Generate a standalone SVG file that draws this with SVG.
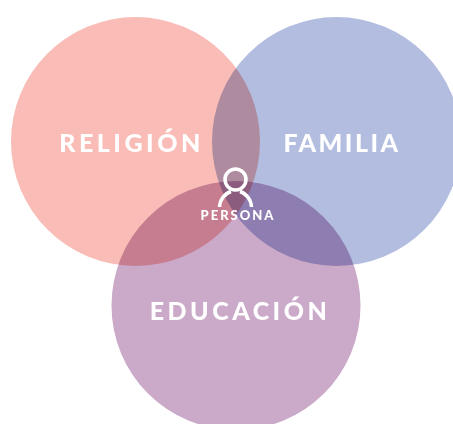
<svg xmlns="http://www.w3.org/2000/svg" width="453" height="424" viewBox="0 0 453 424">
<style>
.c{mix-blend-mode:multiply}
.t{font-family:"Lato","Liberation Sans",sans-serif;font-weight:900;fill:#fff;text-anchor:middle}
.b{font-size:25px;letter-spacing:3.5px}
.f{letter-spacing:2.5px}
.s{font-size:13px;letter-spacing:2px}
.i{fill:none;stroke:#fff;stroke-width:3.5}
</style>
<rect width="453" height="424" fill="#fff"/>
<g style="isolation:isolate">
<g id="religion"><circle class="c" cx="135.500" cy="141.500" r="124.500" fill="#F9BCB6"/></g>
<g id="familia"><circle class="c" cx="336.500" cy="141.500" r="124.500" fill="#B3BDE0"/></g>
<g id="educacion"><circle class="c" cx="236" cy="305.500" r="124.500" fill="#CBA9C9"/></g>
</g>
<g id="connectors"></g>
<g id="religion-label"><text class="t b" x="131.500" y="152">RELIGIÓN</text></g>
<g id="familia-label"><text class="t b f" x="342" y="152">FAMILIA</text></g>
<g id="educacion-label"><text class="t b" x="240" y="320">EDUCACIÓN</text></g>
<g id="persona">
<circle class="i" cx="235.500" cy="179.500" r="10.500"/>
<path class="i" d="M219.500 207A17 17 0 0 1 231 191.500M251.500 207A17 17 0 0 0 240 191.500"/>
<text class="t s" x="238" y="220">PERSONA</text>
</g>
</svg>
